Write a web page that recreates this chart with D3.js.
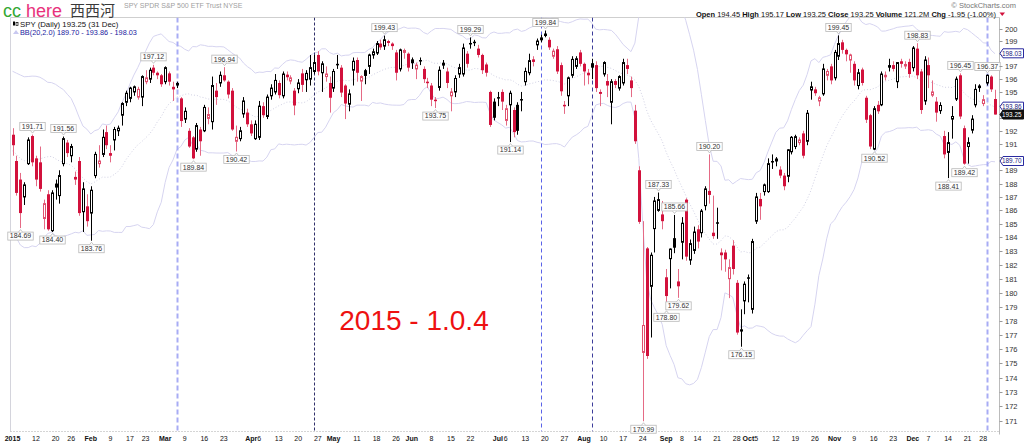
<!DOCTYPE html>
<html><head><meta charset="utf-8">
<script src="https://cdn.jsdelivr.net/npm/d3@7"></script>
<style>body{margin:0;background:#fff;overflow:hidden} svg{display:block}</style>
</head><body><svg id="c" width="1024" height="445"></svg>
<script>
// ---- data (SPY daily 2015) ----
const opens = [
191.7,189.7,188.3,187.0,189.5,191.6,189.9,189.6,185.4,187.2,
184.5,188.0,187.1,189.5,191.1,190.1,188.5,189.7,185.9,186.3,
185.8,188.6,189.5,190.2,191.9,190.3,191.3,192.0,193.2,194.2,
194.5,195.0,194.6,194.6,195.8,196.0,196.9,196.5,196.3,195.8,
196.45,195.4,195.7,194.5,192.9,192.0,191.5,190.6,192.1,192.0,
192.95,192.7,195.1,195.7,196.3,195.8,195.1,191.2,191.4,193.3,
193.4,192.5,191.4,191.5,193.9,193.1,194.7,195.0,195.7,194.7,
196.35,195.85,195.1,195.25,196.45,195.95,196.0,196.6,197.9,196.5,
196.2,195.7,195.3,197.2,196.9,195.5,194.05,196.7,197.5,195.85,
196.7,197.0,197.9,198.05,198.8,198.6,199.0,198.8,198.1,196.8,
198.1,198.0,197.55,196.8,197.5,196.8,195.8,195.5,194.4,195.35,
197.1,196.6,194.7,195.0,196.4,196.4,198.0,198.85,198.95,198.4,
197.9,197.15,195.0,194.25,194.6,195.0,192.8,194.0,193.6,194.0,
194.45,195.8,196.5,197.55,198.7,199.1,199.6,199.1,197.8,198.35,
197.1,194.0,194.7,196.3,197.0,198.1,197.2,196.5,197.25,197.1,
195.0,196.4,195.85,194.2,195.85,195.3,195.7,197.1,195.9,193.55,
189.0,175.75,183.2,180.45,184.65,186.0,185.7,181.1,182.45,183.95,
180.8,183.65,186.8,182.35,183.05,184.6,184.35,186.35,187.45,184.35,
185.12,182.9,182.9,181.0,183.4,180.7,177.38,179.4,181.1,178.8,
185.2,186.85,187.4,187.4,189.7,189.7,189.05,188.6,188.55,190.4,
190.8,191.1,191.8,191.2,195.15,195.2,194.3,194.85,196.3,197.0,
196.1,197.8,198.9,198.3,197.5,197.2,195.5,196.75,194.55,193.2,
190.6,194.0,194.0,196.25,197.1,197.1,195.8,197.4,197.05,197.35,
196.9,198.4,196.6,194.3,197.1,194.75,194.25,193.55,191.6,190.35,
192.9,194.45,196.3,192.2,190.8,192.05,194.0,195.5,194.1,195.7,
196.2,194.45];
const highs = [
192.2,190.1,188.8,188.1,191.5,191.71,190.1,190.8,186.8,187.5,
187.5,188.3,189.0,191.56,191.3,191.0,188.9,190.0,188.1,187.2,
187.8,190.4,190.9,192.1,192.4,190.9,192.3,192.4,194.2,195.1,
195.4,195.5,195.4,196.3,196.7,196.9,197.12,196.6,196.4,197.0,
196.6,195.8,195.8,194.6,193.8,192.2,191.6,192.6,192.3,194.0,
193.8,196.2,195.7,196.6,196.94,195.9,195.3,192.4,192.3,194.6,
193.7,192.8,192.8,194.3,194.2,194.8,195.6,196.4,195.9,196.6,
196.6,196.3,195.3,196.0,196.8,196.7,197.9,197.9,198.2,197.4,
197.0,196.2,196.8,197.9,197.1,195.6,195.2,197.7,197.7,196.3,
196.8,198.0,198.4,199.0,199.1,199.43,199.1,198.9,198.3,198.4,
198.4,198.1,197.7,197.3,197.7,197.0,196.1,195.7,194.6,197.0,
197.5,196.9,195.3,196.3,197.2,198.8,198.2,199.29,199.1,198.7,
198.0,197.3,195.1,194.5,195.0,195.2,194.0,195.1,193.8,194.2,
195.0,196.9,198.0,197.8,199.2,199.5,199.84,199.3,198.4,198.6,
197.3,194.3,196.2,197.8,197.8,198.3,197.3,196.8,197.6,197.4,
195.2,197.4,196.4,196.0,196.0,196.3,197.6,197.6,196.2,194.0,
189.3,185.2,183.3,182.9,187.0,187.33,186.7,181.7,183.2,185.66,
181.7,185.5,186.9,183.85,184.8,184.9,186.1,187.8,190.20,187.1,
186.2,183.2,183.1,182.4,183.8,180.9,178.8,180.8,181.3,183.9,
187.3,187.3,188.0,189.9,190.2,190.0,189.3,188.8,190.6,191.6,
191.7,191.5,192.0,193.6,195.8,195.4,194.7,197.2,196.8,197.2,
198.3,199.45,199.1,198.4,198.0,197.4,196.8,196.9,194.7,193.3,
193.9,194.3,196.6,196.6,197.6,197.4,197.3,197.6,197.4,197.6,
198.6,198.83,196.8,197.8,197.7,195.9,194.6,194.2,192.0,191.9,
193.9,196.2,196.45,192.4,191.5,193.2,195.6,195.6,194.75,196.37,
196.3,195.17];
const lows = [
190.1,187.1,184.69,186.4,189.4,189.3,187.8,187.4,184.6,184.5,
184.40,186.8,186.5,189.3,190.0,189.6,187.9,185.6,184.4,184.8,
183.76,188.4,189.2,190.0,190.6,189.6,190.5,191.6,192.4,193.9,
194.2,194.7,194.4,193.9,195.6,195.7,196.3,196.0,195.4,195.6,
195.5,194.3,195.3,192.3,192.6,190.7,189.84,190.4,190.1,191.9,
192.5,192.1,194.0,195.4,195.8,194.5,192.0,190.42,191.2,193.0,
192.3,191.6,191.3,191.3,193.0,192.9,194.4,194.8,194.5,194.5,
195.9,195.6,193.2,194.9,195.0,195.0,195.5,196.4,196.3,195.0,
195.8,193.4,195.0,196.8,194.6,192.9,193.5,195.5,195.8,194.3,
195.6,196.4,197.6,197.9,198.3,198.3,198.6,198.3,195.9,196.6,
197.6,196.6,196.8,196.0,197.1,195.7,195.3,193.9,193.75,195.1,
196.8,195.3,193.5,194.6,196.1,196.2,196.9,198.4,198.6,197.7,
196.4,196.2,192.3,192.8,193.9,193.6,192.4,191.14,191.5,191.7,
193.5,195.5,196.3,197.0,198.3,198.9,199.3,198.3,197.6,196.4,
194.7,193.3,193.9,196.1,196.8,197.0,195.5,195.6,196.0,195.0,
193.9,196.2,194.6,192.5,195.3,195.1,195.5,196.4,194.6,191.0,
185.0,170.99,175.3,176.8,182.9,185.9,184.6,178.80,180.3,182.85,
179.62,182.4,182.3,182.0,182.8,183.2,184.0,186.0,186.5,183.9,
183.9,181.6,181.5,179.6,181.3,177.0,176.15,178.45,179.3,178.5,
185.0,185.3,187.1,187.3,189.1,189.3,188.4,187.5,188.1,190.2,
190.6,190.9,189.9,190.9,194.4,194.7,193.9,194.7,195.9,195.6,
195.9,197.5,198.0,197.4,196.5,195.5,195.2,195.5,192.6,190.6,
190.52,193.3,193.9,195.9,196.6,196.6,195.3,196.9,196.8,196.1,
196.6,196.0,193.3,194.0,195.3,194.6,192.7,193.3,189.9,188.41,
191.4,194.3,192.9,189.42,189.5,191.8,193.8,195.0,193.9,195.5,
195.0,193.25];
const closes = [
190.9,187.3,185.8,187.9,191.3,189.6,188.3,187.6,186.5,184.6,
187.3,187.7,188.6,191.4,190.3,190.8,188.3,185.8,187.6,185.2,
187.5,190.2,189.7,191.5,190.9,190.1,192.1,192.2,194.1,194.9,
195.3,195.4,195.2,196.2,196.1,196.7,196.5,196.3,195.6,196.9,
195.8,195.2,195.5,192.75,193.5,190.8,189.9,192.4,191.2,193.8,
193.25,195.5,194.6,196.3,195.9,194.8,192.1,191.5,192.0,194.3,
192.5,191.8,192.5,193.9,193.2,194.6,195.3,195.9,194.75,196.4,
196.15,196.1,193.95,195.7,195.55,196.45,196.9,197.3,196.6,197.2,
196.4,194.55,196.6,197.1,194.95,194.1,194.85,197.4,196.5,196.2,
196.25,197.9,198.15,198.8,198.5,199.1,198.85,198.6,196.5,198.3,
198.25,196.9,197.25,197.1,197.45,196.0,195.7,194.4,194.35,196.7,
197.25,195.7,195.0,196.05,196.9,198.45,197.2,198.8,198.9,197.9,
196.7,196.5,192.45,193.0,194.5,194.25,193.7,194.9,191.9,192.0,
194.4,196.6,197.45,197.35,199.0,199.25,199.4,198.5,198.2,196.6,
195.05,193.9,196.1,197.55,197.6,197.2,196.6,196.3,196.9,195.3,
194.85,197.3,195.5,195.8,195.55,196.2,197.3,196.8,195.3,191.2,
185.15,177.65,175.5,182.7,186.7,186.8,185.2,179.75,183.15,183.25,
180.45,185.05,182.6,183.55,184.4,183.7,185.95,187.6,187.15,184.1,
185.08,182.7,182.4,181.8,181.7,177.15,177.22,180.6,181.05,183.7,
187.0,186.3,187.9,189.5,189.65,189.85,188.6,187.8,190.55,191.5,
191.55,191.3,190.1,193.35,195.4,194.9,194.55,196.8,196.6,195.9,
198.1,198.8,198.3,197.95,197.9,195.9,196.5,195.7,192.85,190.8,
193.7,193.5,196.4,196.3,196.9,196.8,197.3,197.2,197.15,196.4,
198.45,196.3,193.6,197.5,196.3,195.0,193.4,193.95,190.2,191.1,
193.1,196.0,193.1,189.5,191.1,192.9,195.2,195.3,194.4,196.3,
195.20,193.25];
// Dec 2014 closes, only used to warm up the 20-day Bollinger Band
const priorCloses = [192.2,192.5,191.2,191.1,188.0,189.0,185.9,184.6,183.2,186.8,191.4,191.9,192.8,193.1,193.1,193.7,194.0,192.9,191.0];

const xTickIdx  = [0,6,11,15,20,25,30,34,39,44,49,54,61,63,68,73,78,82,88,93,98,102,107,112,117,124,126,131,136,141,146,151,156,161,167,171,175,180,185,188,190,195,200,205,210,215,220,225,230,234,239,244,248];
const xTickText = ['2015','12','20','26','Feb','9','17','23','Mar','9','16','23','Apr','6','13','20','27','May','11','18','26','Jun','8','15','22','Jul','6','13','20','27','Aug','10','17','24','Sep','8','14','21','28','Oct','5','12','19','26','Nov','9','16','23','Dec','7','14','21','28'];
const yTicks = d3.range(171, 201);

const peakIdx = [5,13,36,54,95,117,136,165,169,178,211,231,242,249];
const peakVal = [191.71,191.56,197.12,196.94,199.43,199.29,199.84,187.33,185.66,190.20,199.45,198.83,196.45,196.37];
const troughIdx = [2,10,20,46,57,108,127,161,167,170,186,220,239,243];
const troughVal = [184.69,184.40,183.76,189.84,190.42,193.75,191.14,170.99,178.80,179.62,176.15,190.52,188.41,189.42];

const markerIdx = [42,77,135,148,249];
const tagVals = [198.03,193.86,193.25,189.70];
const tagKind = ['band','band','close','band'];

// ---- drawing ----
const svg = d3.select('#c');
const FONT = "Arial, 'Liberation Sans', sans-serif";
const n = closes.length;
const L = 10.5, R = 999.5, T = 17.5, B = 431.5;
const x = d3.scaleLinear().domain([0, n-1]).range([12.5, 995]);
const y = d3.scaleLog().domain([171, 200]).range([421.1, 28.5]);

svg.append('defs').append('clipPath').attr('id','clip')
  .append('rect').attr('x',L).attr('y',T).attr('width',R-L).attr('height',B-T);

// frame
svg.append('line').attr('x1',L).attr('x2',R).attr('y1',T).attr('y2',T).attr('stroke','#cfcfcf');
svg.append('line').attr('x1',L).attr('x2',L).attr('y1',T).attr('y2',B).attr('stroke','#d4d4dc');
svg.append('line').attr('x1',R).attr('x2',R).attr('y1',T).attr('y2',B+3).attr('stroke','#bbb');
svg.append('line').attr('x1',L).attr('x2',R).attr('y1',B).attr('y2',B).attr('stroke','#aaa').attr('stroke-dasharray','1,2');

const plot = svg.append('g').attr('clip-path','url(#clip)');

// Bollinger bands (20, 2.0)
const all = priorCloses.concat(closes);
const bb = d3.range(n).map(i => {
  const w = all.slice(i, i + 20);
  const m = d3.mean(w);
  const s = Math.sqrt(d3.mean(w, v => (v - m) * (v - m)));
  return {i, m, u: m + 2*s, l: m - 2*s};
});
const lineOf = k => d3.line().x(d => x(d.i)).y(d => y(Math.max(160, d[k])));
plot.append('path').datum(bb).attr('d', lineOf('u')).attr('fill','none').attr('stroke','#d6d4f0').attr('stroke-width',1);
plot.append('path').datum(bb).attr('d', lineOf('l')).attr('fill','none').attr('stroke','#d6d4f0').attr('stroke-width',1);
plot.append('path').datum(bb).attr('d', lineOf('m')).attr('fill','none').attr('stroke','#cfcfe2').attr('stroke-width',1).attr('stroke-dasharray','1,2');

// marker lines
const markerStyle = [
  {c:'#a8acf4', w:2, d:'5,3'}, {c:'#30306a', w:1, d:'3,2'}, {c:'#5a62e8', w:1, d:'4,3'},
  {c:'#3c3c9a', w:1, d:'4,3'}, {c:'#a8acf4', w:2, d:'5,3'}];
markerIdx.forEach((mi, k) => {
  const xx = Math.round(x(mi)) + 0.5;
  plot.append('line').attr('x1',xx).attr('x2',xx).attr('y1',T).attr('y2',B)
    .attr('stroke',markerStyle[k].c).attr('stroke-width',markerStyle[k].w).attr('stroke-dasharray',markerStyle[k].d);
});

// candles: black = close above previous close, red = below; hollow = close above open
const RED = '#d2113c', RED_W = '#e56a85', RED_H = '#e0506e';
const cg = plot.append('g');
d3.range(n).forEach(i => {
  const o = opens[i], h = highs[i], l = lows[i], c = closes[i];
  const p = i ? closes[i-1] : priorCloses[priorCloses.length-1];
  const up = c >= p, hollow = c > o;
  const cx = Math.round(x(i));
  cg.append('line').attr('x1',cx+0.5).attr('x2',cx+0.5).attr('y1',y(h)).attr('y2',y(l))
    .attr('stroke', up ? '#000' : RED_W).attr('stroke-width',1);
  const top = y(Math.max(o,c)), bot = y(Math.min(o,c));
  const hh = Math.max(bot - top, 1.5);
  if (hollow) {
    cg.append('rect').attr('x',cx-0.5).attr('y',top).attr('width',2).attr('height',hh)
      .attr('fill','#fff').attr('stroke', up ? '#000' : RED_H).attr('stroke-width',1);
  } else {
    cg.append('rect').attr('x',cx-1).attr('y',top).attr('width',3).attr('height',hh)
      .attr('fill', up ? '#000' : RED);
  }
});

// peak / trough labels
const lg = svg.append('g').attr('font-family',FONT).attr('font-size',7).attr('fill','#333');
function tagLabel(i, v, above) {
  const cx = Math.round(x(i)) + 0.5;
  const t = lg.append('text').text(v.toFixed(2)).attr('text-anchor','middle').attr('x',cx);
  const tw = t.node().getComputedTextLength();
  const bh = 8, bw = tw + 4;
  const by = above ? y(v) - 4 - bh : y(v) + 4;
  t.attr('y', by + 6.4);
  lg.insert('rect','text').attr('x',cx-bw/2).attr('y',by).attr('width',bw).attr('height',bh)
    .attr('fill','#fff').attr('stroke','#b8b8b8').attr('stroke-width',0.8);
  const py = above ? by + bh : by;
  const d = above ? `M${cx-2},${py} L${cx},${py+2.5} L${cx+2},${py}` : `M${cx-2},${py} L${cx},${py-2.5} L${cx+2},${py}`;
  lg.append('path').attr('d',d).attr('fill','#fff').attr('stroke','#b8b8b8').attr('stroke-width',0.8);
}
peakIdx.forEach((pi,k) => tagLabel(pi, peakVal[k], true));
troughIdx.forEach((ti,k) => tagLabel(ti, troughVal[k], false));

// right axis
const ax = svg.append('g').attr('font-family',FONT).attr('font-size',7.5).attr('fill','#333');
yTicks.forEach(v => {
  const yy = Math.round(y(v)) + 0.5;
  ax.append('line').attr('x1',R).attr('x2',R+3).attr('y1',yy).attr('y2',yy).attr('stroke','#999');
  const covered = tagVals.some(t => Math.abs(y(t) - y(v)) < 6.5);
  if (!covered) ax.append('text').attr('x',1005).attr('y',yy+2.7).text(v);
});
// value tags on axis
tagVals.forEach((v,k) => {
  const yy = y(v);
  const g = svg.append('g');
  const isClose = tagKind[k] === 'close';
  g.append('path').attr('d',`M${R+0.5},${yy} L${R+3.5},${yy-4.5} L1023.5,${yy-4.5} L1023.5,${yy+4.5} L${R+3.5},${yy+4.5} Z`)
    .attr('fill', isClose ? '#111' : '#fff').attr('stroke', isClose ? '#111' : '#2a2aa0').attr('stroke-width',1);
  g.append('text').attr('x',1002).attr('y',yy+2.4).text(v.toFixed(2))
    .attr('font-family',FONT).attr('font-size',6.4).attr('fill', isClose ? '#fff' : '#1a1a80');
});

// bottom axis labels
const bx = svg.append('g').attr('font-family',FONT).attr('font-size',7).attr('fill','#111').attr('text-anchor','middle');
xTickIdx.forEach((ti,k) => {
  const lab = xTickText[k];
  const bold = /[A-Za-z]/.test(lab) || lab === '2015';
  bx.append('text').attr('x', x(ti)).attr('y', 441).text(lab).attr('font-weight', bold ? 'bold' : 'normal');
});

// header text (faint title sits just right of the logo)
svg.append('text').attr('x',124).attr('y',8).attr('font-family',FONT).attr('font-size',7).attr('fill','#a0a0a0').text('SPY SPDR S&P 500 ETF Trust  NYSE');
const logo = svg.append('text').attr('x',3).attr('y',16.5).attr('font-family',FONT).attr('font-size',18);
logo.append('tspan').text('cc').attr('fill','#33a833');
logo.append('tspan').text(' here').attr('fill','#e8327c');
svg.append('text').attr('x',70).attr('y',16).attr('font-family',"'Noto Sans CJK SC', sans-serif").attr('font-size',15).attr('fill','#3a3a3a').text('西西河');

// legend
svg.append('rect').attr('x',13).attr('y',21.5).attr('width',2).attr('height',4).attr('fill','#000');
svg.append('rect').attr('x',16).attr('y',22.5).attr('width',2).attr('height',3).attr('fill','#fff').attr('stroke','#000').attr('stroke-width',0.7);
svg.append('text').attr('x',20).attr('y',27).attr('font-family',FONT).attr('font-size',7.8).attr('fill','#111').text('SPY (Daily) 193.25 (31 Dec)');
svg.append('path').attr('d','M13,34 L16,30 L19,34 Z').attr('fill','#c8c8f0');
svg.append('text').attr('x',20).attr('y',34.5).attr('font-family',FONT).attr('font-size',7.3).attr('fill','#1a1aa0').text('BB(20,2.0) 189.70 - 193.86 - 198.03');

// top-right
svg.append('text').attr('x',1016).attr('y',8).attr('text-anchor','end').attr('font-family',FONT).attr('font-size',7.5).attr('fill','#777').text('© StockCharts.com');
const info = svg.append('text').attr('x',996).attr('y',16.5).attr('text-anchor','end').attr('font-family',FONT).attr('font-size',7.5).attr('fill','#111');
[['Open',' 194.45 '],['High',' 195.17 '],['Low',' 193.25 '],['Close',' 193.25 '],['Volume',' 121.2M '],['Chg',' -1.95 (-1.00%)']].forEach(([a,b]) => {
  info.append('tspan').text(a).attr('font-weight','bold');
  info.append('tspan').text(b);
});
svg.append('path').attr('d','M999.5,12.5 L1005,12.5 L1002.25,16 Z').attr('fill','#d2113c');

// annotation
svg.append('text').attr('x',414).attr('y',330).attr('text-anchor','middle').attr('font-family',FONT).attr('font-size',28).attr('fill','#ee1111').text('2015 - 1.0.4');
</script>
</body></html>
